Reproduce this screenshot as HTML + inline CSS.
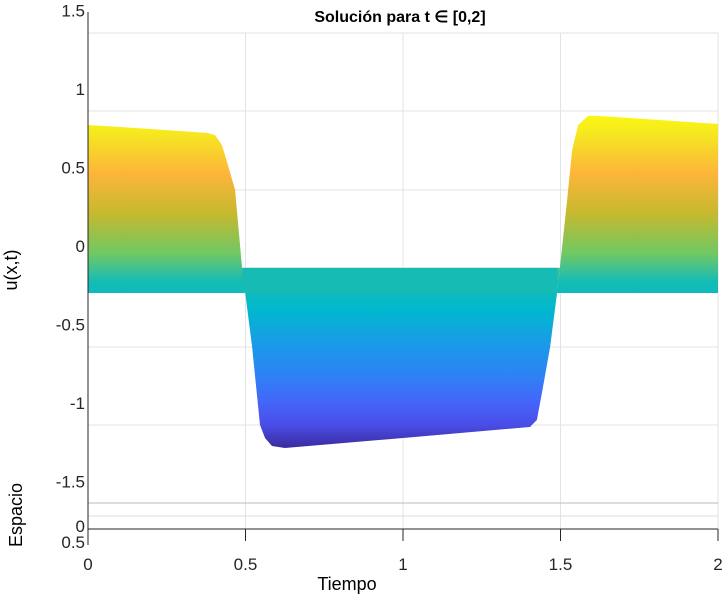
<!DOCTYPE html>
<html><head><meta charset="utf-8"><style>body{margin:0;background:#fff}svg{display:block;font-family:"Liberation Sans",sans-serif}</style></head>
<body>
<svg id="c" width="725" height="599" viewBox="0 0 725 599">
<defs><linearGradient id="parula" gradientUnits="userSpaceOnUse" x1="0" y1="113" x2="0" y2="448">
<stop offset="0" stop-color="#f9fb0e"/>
<stop offset="0.07" stop-color="#f6e422"/>
<stop offset="0.18" stop-color="#fdb53a"/>
<stop offset="0.3" stop-color="#c6b92e"/>
<stop offset="0.42" stop-color="#6fc864"/>
<stop offset="0.48" stop-color="#30bfa0"/>
<stop offset="0.5" stop-color="#16bcb2"/>
<stop offset="0.59" stop-color="#00b8cf"/>
<stop offset="0.69" stop-color="#1a9ae8"/>
<stop offset="0.79" stop-color="#2f80f5"/>
<stop offset="0.86" stop-color="#4466fa"/>
<stop offset="0.93" stop-color="#4a4ee8"/>
<stop offset="1" stop-color="#3b2b9e"/></linearGradient></defs>
<g id="grid"></g>
<g id="surf"></g>
<g id="axes"></g>
<text x="400" y="22" text-anchor="middle" font-size="16" font-weight="bold">Solución para t ∈ [0,2]</text>
<text x="347" y="590" text-anchor="middle" font-size="18">Tiempo</text>
<text transform="translate(17,270) rotate(-90)" text-anchor="middle" font-size="18">u(x,t)</text>
<text transform="translate(22,515) rotate(-90)" text-anchor="middle" font-size="18">Espacio</text>
</svg>
<script>
const times=[0,0.2,0.38,0.403,0.425,0.444,0.467,0.489,0.521,0.546,0.562,0.584,0.625,1.0,1.403,1.425,1.441,1.467,1.489,1.498,1.521,1.537,1.556,1.587,1.625,2.0];
const values=[0.764,0.739,0.713,0.701,0.637,0.510,0.350,-0.146,-0.650,-1.146,-1.229,-1.280,-1.293,-1.229,-1.159,-1.115,-0.943,-0.650,-0.306,-0.146,0.287,0.605,0.764,0.822,0.822,0.771];
const xTicks=[0,0.5,1,1.5,2];
const xTickLabels=["0","0.5","1","1.5","2"];
const uTicks=[1.5,1,0.5,0,-0.5,-1,-1.5];
const uTickLabels=["1.5","1","0.5","0","-0.5","-1","-1.5"];
const bandTop=-0.146, bandBottom=-0.306;
const X=t=>88+t*315, Y=v=>245-v*157;
const NS="http://www.w3.org/2000/svg";
function mk(tag,attrs,parent){const e=document.createElementNS(NS,tag);for(const k in attrs)e.setAttribute(k,attrs[k]);parent.appendChild(e);return e;}
const grid=document.getElementById('grid'),surf=document.getElementById('surf'),axes=document.getElementById('axes');
[33,111,190,268,347,425].forEach(y=>{const l=mk('line',{x1:88,x2:718,y1:y,y2:y,stroke:'#e3e3e3'},grid);

});
xTicks.forEach(t=>{const l=mk('line',{x1:X(t),x2:X(t),y1:33,y2:529,stroke:'#e3e3e3'},grid);

});
[[503,'#bbb'],[516,'#ddd']].forEach(([y,c])=>{const l=mk('line',{x1:88,x2:718,y1:y,y2:y,stroke:c},grid);

});
let d2='M'+X(times[0])+','+Y(bandTop);
times.forEach((t,i)=>{d2+=' L'+X(t)+','+Y(Math.min(values[i],bandTop));});
d2+=' L'+X(2)+','+Y(bandTop)+' Z';
const p2=mk('path',{d:d2,fill:'url(#parula)'},surf);


let d1='M'+X(times[0])+','+Y(bandBottom);
times.forEach((t,i)=>{d1+=' L'+X(t)+','+Y(Math.max(values[i],bandBottom));});
d1+=' L'+X(2)+','+Y(bandBottom)+' Z';
const p1=mk('path',{d:d1,fill:'url(#parula)'},surf);


const band=mk('rect',{x:X(0.49),y:Y(bandTop),width:X(1.49)-X(0.49),height:Y(bandBottom)-Y(bandTop),fill:'#16bcb4'},surf);


const la=mk('line',{x1:88,x2:88,y1:12,y2:545,stroke:'#262626'},axes);


const ba=mk('line',{x1:88,x2:718,y1:529,y2:529,stroke:'#262626'},axes);


xTicks.forEach((t,i)=>{const tk=mk('line',{x1:X(t),x2:X(t),y1:529,y2:541,stroke:'#262626'},axes);


const tx=mk('text',{x:X(t),y:570,'text-anchor':'middle','font-size':17,fill:'#262626'},axes);tx.textContent=xTickLabels[i];

});
uTicks.forEach((v,i)=>{const tx=mk('text',{x:85,y:Y(v)+7,'text-anchor':'end','font-size':17,fill:'#262626'},axes);tx.textContent=uTickLabels[i];

});
[["0",532],["0.5",548]].forEach(([s,y])=>{const tx=mk('text',{x:85,y:y,'text-anchor':'end','font-size':17,fill:'#262626'},axes);tx.textContent=s;

});
</script>
</body></html>
